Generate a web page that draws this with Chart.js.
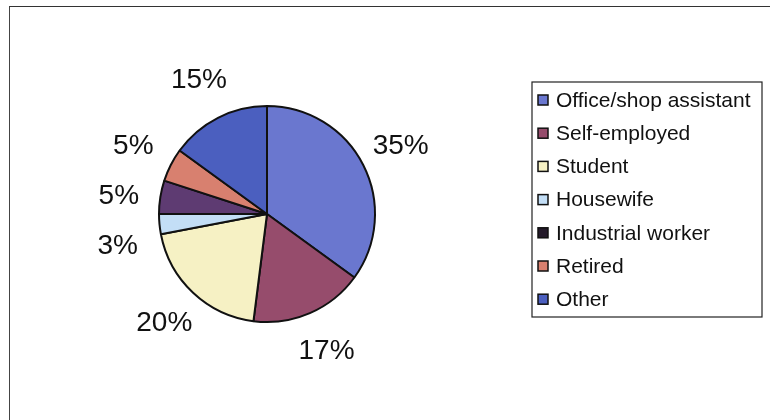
<!DOCTYPE html>
<html lang="en">
<head>
  <meta charset="UTF-8">
  <title>Occupation of respondents</title>
  <script src="https://cdn.jsdelivr.net/npm/chart.js"></script>
  <style>
    html, body { margin: 0; padding: 0; background: #fff; }
    body { width: 770px; height: 420px; position: relative; overflow: hidden; }
    /* outer frame: only top and left edges are visible in the scan */
    #frame {
      position: absolute; left: 9px; top: 6px; width: 800px; height: 460px;
      border-top: 1.5px solid #333; border-left: 1.5px solid #444;
    }
    #wrap { position: absolute; left: 0; top: 0; width: 770px; height: 420px; }
  </style>
</head>
<body>
  <div id="frame"></div>
  <div id="wrap"><canvas id="pie" width="770" height="420"></canvas></div>

  <script>
    // data
    const categories = ['Office/shop assistant', 'Self-employed', 'Student', 'Housewife',
                        'Industrial worker', 'Retired', 'Other'];
    const shares = [35, 17, 20, 3, 5, 5, 15];
    const valueLabels = ['35%', '17%', '20%', '3%', '5%', '5%', '15%'];

    // colours
    const sliceColors = ['#6a77cf', '#964c6c', '#f6f1c4', '#c3def6', '#5e3b72', '#d8806f', '#4b5fbf'];
    const swatchColors = ['#6a77cf', '#964c6c', '#f6f1c4', '#c3def6', '#241a2a', '#d8806f', '#4b5fbf'];

    const FONT = '"Liberation Sans", Arial, sans-serif';

    // percentage labels outside each slice, pushed apart when they crowd on one side
    const outsideLabels = {
      id: 'outsideLabels',
      afterDatasetsDraw(chart) {
        const ctx = chart.ctx;
        const arcs = chart.getDatasetMeta(0).data;
        const minGap = 50;
        const pos = arcs.map((arc, i) => {
          const p = arc.getProps(['x', 'y', 'startAngle', 'endAngle', 'outerRadius'], true);
          const mid = (p.startAngle + p.endAngle) / 2;
          const d = p.outerRadius + 42;
          return { i, x: p.x + d * Math.cos(mid), y: p.y + d * Math.sin(mid), left: Math.cos(mid) < 0 };
        });
        [true, false].forEach(side => {
          const group = pos.filter(q => q.left === side).sort((a, b) => a.y - b.y);
          for (let k = 1; k < group.length; k++) {
            if (group[k].y - group[k - 1].y < minGap) group[k].y = group[k - 1].y + minGap;
          }
        });
        ctx.save();
        ctx.font = '28px ' + FONT;
        ctx.fillStyle = '#111';
        ctx.textAlign = 'center';
        ctx.textBaseline = 'middle';
        pos.forEach(q => ctx.fillText(valueLabels[q.i], q.x, q.y));
        ctx.restore();
      }
    };

    // boxed legend on the right
    const boxedLegend = {
      id: 'boxedLegend',
      afterDraw(chart) {
        const ctx = chart.ctx;
        const left = 532, top = 82, right = 762, bottom = 317;
        const rowH = 33.2, firstRow = 100;
        ctx.save();
        ctx.strokeStyle = '#222';
        ctx.lineWidth = 1.2;
        ctx.strokeRect(left, top, right - left, bottom - top);
        ctx.font = '21px ' + FONT;
        ctx.textBaseline = 'middle';
        ctx.textAlign = 'left';
        chart.data.labels.forEach((label, i) => {
          const y = firstRow + i * rowH;
          ctx.fillStyle = swatchColors[i];
          ctx.fillRect(538, y - 5, 10, 10);
          ctx.strokeStyle = '#111';
          ctx.lineWidth = 1.5;
          ctx.strokeRect(538, y - 5, 10, 10);
          ctx.fillStyle = '#111';
          ctx.fillText(label, 556, y + 1);
        });
        ctx.restore();
      }
    };

    new Chart(document.getElementById('pie'), {
      type: 'pie',
      data: {
        labels: categories,
        datasets: [{
          data: shares,
          backgroundColor: sliceColors,
          borderColor: '#111',
          borderWidth: 2
        }]
      },
      options: {
        responsive: false,
        animation: false,
        layout: { padding: { left: 158, right: 394, top: 105, bottom: 97 } },
        plugins: {
          legend: { display: false },
          tooltip: { enabled: false }
        }
      },
      plugins: [outsideLabels, boxedLegend]
    });
  </script>
</body>
</html>
